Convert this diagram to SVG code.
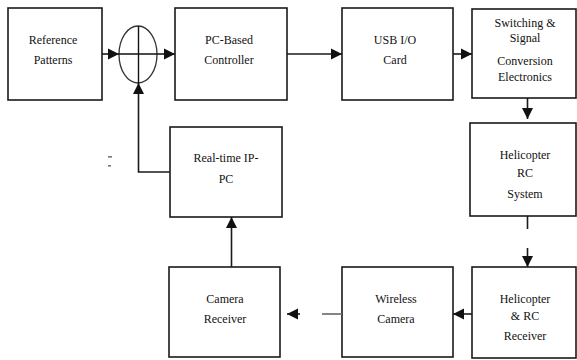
<svg xmlns="http://www.w3.org/2000/svg" width="577" height="360" viewBox="0 0 577 360">
  <style>
    .box { fill: #fff; stroke: #1a1a1a; stroke-width: 1.6; }
    .wire { fill: none; stroke: #1a1a1a; stroke-width: 1.6; }
    .lbl { font-family: Liberation Serif, Tinos, Times New Roman, DejaVu Serif, Noto Serif, serif; font-size: 12px; fill: #111; text-anchor: middle; }
  </style>
  <defs>
    <marker id="arr" viewBox="0 0 10 10" refX="10" refY="5" markerWidth="7" markerHeight="7" markerUnits="strokeWidth" orient="auto">
      <path d="M0,0 L10,5 L0,10 Z" fill="#111"/>
    </marker>
  </defs>
  <rect width="577" height="360" fill="#fff"/>

  <g id="reference-patterns">
    <rect class="box" x="8" y="8" width="94" height="92"/>
    <text class="lbl" x="53" y="44">Reference</text>
    <text class="lbl" x="53" y="64">Patterns</text>
  </g>

  <g id="summing-junction">
    <ellipse cx="138" cy="54.5" rx="19" ry="28.5" fill="none" stroke="#333" stroke-width="1.3"/>
    <line x1="119" y1="54" x2="157" y2="54" stroke="#111" stroke-width="1.4"/>
    <line x1="138.5" y1="26" x2="138.5" y2="83" stroke="#111" stroke-width="1.4"/>
  </g>

  <g id="pc-controller">
    <rect class="box" x="175" y="8" width="112" height="92"/>
    <text class="lbl" x="229" y="44">PC-Based</text>
    <text class="lbl" x="229" y="64">Controller</text>
  </g>

  <g id="usb-card">
    <rect class="box" x="342" y="8" width="111" height="92"/>
    <text class="lbl" x="395" y="44">USB I/O</text>
    <text class="lbl" x="395" y="64">Card</text>
  </g>

  <g id="switching-electronics">
    <rect class="box" x="472" y="9" width="104" height="89"/>
    <text class="lbl" x="525" y="27">Switching &amp;</text>
    <text class="lbl" x="525" y="42">Signal</text>
    <text class="lbl" x="525" y="65">Conversion</text>
    <text class="lbl" x="525" y="81">Electronics</text>
  </g>

  <g id="helicopter-rc-system">
    <rect class="box" x="470" y="123" width="106" height="93"/>
    <text class="lbl" x="525" y="159">Helicopter</text>
    <text class="lbl" x="525" y="177">RC</text>
    <text class="lbl" x="525" y="198">System</text>
  </g>

  <g id="helicopter-rc-receiver">
    <rect class="box" x="472" y="267" width="104" height="91"/>
    <text class="lbl" x="525" y="303">Helicopter</text>
    <text class="lbl" x="525" y="320">&amp; RC</text>
    <text class="lbl" x="525" y="340">Receiver</text>
  </g>

  <g id="wireless-camera">
    <rect class="box" x="342" y="267" width="111" height="90"/>
    <text class="lbl" x="396" y="303">Wireless</text>
    <text class="lbl" x="396" y="323">Camera</text>
  </g>

  <g id="camera-receiver">
    <rect class="box" x="169" y="267" width="111" height="90"/>
    <text class="lbl" x="225" y="303">Camera</text>
    <text class="lbl" x="225" y="323">Receiver</text>
  </g>

  <g id="realtime-ip-pc">
    <rect class="box" x="170" y="127" width="112" height="90"/>
    <text class="lbl" x="226" y="162">Real-time IP-</text>
    <text class="lbl" x="226" y="183">PC</text>
  </g>

  <!-- stray tick marks left of the feedback path -->
  <g id="tick-marks" fill="#777">
    <rect x="108" y="156" width="4" height="1.6"/>
    <rect x="108" y="165" width="3" height="1.6"/>
  </g>

  <g id="connectors">
    <line class="wire" x1="102" y1="54" x2="119" y2="54" marker-end="url(#arr)"/>
    <line class="wire" x1="157" y1="54" x2="175" y2="54" marker-end="url(#arr)"/>
    <line class="wire" x1="287" y1="54" x2="342" y2="54" marker-end="url(#arr)"/>
    <line class="wire" x1="453" y1="54" x2="472" y2="54" marker-end="url(#arr)"/>
    <line class="wire" x1="527.5" y1="98" x2="527.5" y2="119" marker-end="url(#arr)"/>
    <line class="wire" x1="527.5" y1="216" x2="527.5" y2="229"/>
    <line class="wire" x1="527.5" y1="248" x2="527.5" y2="267" marker-end="url(#arr)"/>
    <line class="wire" x1="472" y1="314" x2="453" y2="314" marker-end="url(#arr)"/>
    <line x1="342" y1="314" x2="322" y2="314" stroke="#666" stroke-width="1.6"/>
    <line class="wire" x1="300" y1="314" x2="287" y2="314" marker-end="url(#arr)"/>
    <line class="wire" x1="231.5" y1="267" x2="231.5" y2="217" marker-end="url(#arr)"/>
    <polyline class="wire" points="170,172 138.5,172 138.5,83" marker-end="url(#arr)"/>
  </g>
</svg>
